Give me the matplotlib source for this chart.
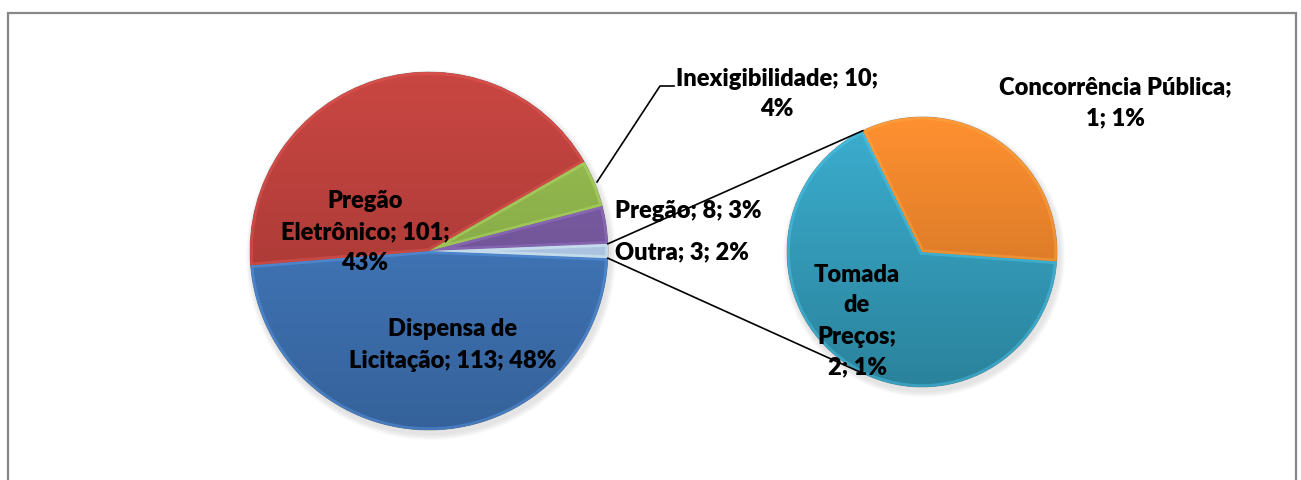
import numpy as np
import matplotlib.pyplot as plt
from matplotlib.patches import Wedge, Rectangle, Circle
from matplotlib.colors import to_rgb

# pizza principal
categorias = ['Dispensa de Licitação', 'Pregão Eletrônico', 'Inexigibilidade', 'Pregão', 'Outra']
valores = [113, 101, 10, 8, 3]
rotulos = ['Dispensa de\nLicitação; 113; 48%', 'Pregão\nEletrônico; 101;\n43%',
           'Inexigibilidade; 10;\n4%', 'Pregão; 8; 3%', 'Outra; 3; 2%']
cores = ['#427ac0', '#bd3f3b', '#92b84c', '#7a5aa4', '#b8d2f0']

# pizza secundaria (detalhe de "Outra")
categorias2 = ['Tomada de Preços', 'Concorrência Pública']
valores2 = [2, 1]
rotulos2 = ['Tomada\nde\nPreços;\n2; 1%', 'Concorrência Pública;\n1; 1%']
cores2 = ['#35a3c3', '#f2862a']

plt.rcParams['font.family'] = ['Lato', 'DejaVu Sans']

W, H = 1301, 480
fig = plt.figure(figsize=(W / 100, H / 100), dpi=100)
ax = fig.add_axes([0, 0, 1, 1])

# centros e raios em pixels (y para cima)
c1, r1 = (429, H - 251), 179
c2, r2 = (922, H - 252), 135


def sombrear(ax, cunha, cor, centro, r):
    # gradiente vertical recortado pela fatia + brilho na borda (efeito bisel)
    base = np.array(to_rgb(cor))
    claro = np.clip(base * 1.04 + 0.02, 0, 1)
    escuro = base * 0.8
    t = np.linspace(0, 1, 256)[:, None]
    img = (claro * (1 - t) + escuro * t)[:, None, :]
    im = ax.imshow(img, extent=(centro[0] - r, centro[0] + r, centro[1] - r, centro[1] + r),
                   origin='upper', aspect='auto', zorder=2)
    im.set_clip_path(cunha)
    borda = Wedge(cunha.center, cunha.r, cunha.theta1, cunha.theta2, facecolor='none',
                  edgecolor=np.clip(base * 1.15 + 0.08, 0, 1), linewidth=4, alpha=0.4, zorder=3)
    ax.add_patch(borda)
    borda.set_clip_path(cunha)


# sombras suaves
for centro, r in [(c1, r1), (c2, r2)]:
    for k in range(6):
        ax.add_patch(Circle((centro[0] + 2, centro[1] - 4), r + 1 + k, color='#808080',
                            alpha=0.035, lw=0, zorder=0))

meio = 180 * valores[-1] / sum(valores)
fatias, _ = ax.pie(valores, colors=cores, center=c1, radius=r1, startangle=-meio,
                   counterclock=False, wedgeprops=dict(linewidth=0.6, edgecolor='#50505080'))
for f, cor in zip(fatias, cores):
    sombrear(ax, f, cor, c1, r1)

fatias2, _ = ax.pie(valores2, colors=cores2, center=c2, radius=r2, startangle=116,
                    wedgeprops=dict(linewidth=0.6, edgecolor='#50505080'))
for f, cor in zip(fatias2, cores2):
    sombrear(ax, f, cor, c2, r2)

# linhas de ligacao entre as pizzas
for s in (1, -1):
    a1 = np.radians(s * meio)
    a2 = np.radians(s * 116)
    ax.plot([c1[0] + r1 * np.cos(a1), c2[0] + r2 * np.cos(a2)],
            [c1[1] + r1 * np.sin(a1), c2[1] + r2 * np.sin(a2)],
            color='black', lw=1.2, zorder=4)

# linha guia de Inexigibilidade
ax.plot([597, 660, 674], [H - 182, H - 86, H - 86], color='black', lw=1.2, zorder=4)

fs = 17
estilo = dict(fontsize=fs, fontweight='heavy', color='black', linespacing=1.5, zorder=5)
ax.text(453, H - 345, rotulos[0], ha='center', va='center', **estilo)
ax.text(365, H - 232, rotulos[1], ha='center', va='center', **estilo)
ax.text(777, H - 94, rotulos[2], ha='center', va='center', **estilo)
ax.text(615, H - 211, rotulos[3], ha='left', va='center', **estilo)
ax.text(615, H - 252, rotulos[4], ha='left', va='center', **estilo)
ax.text(857, H - 321, rotulos2[0], ha='center', va='center', **estilo)
ax.text(1115, H - 103, rotulos2[1], ha='center', va='center', **estilo)

# moldura do grafico
ax.add_patch(Rectangle((8, -10), 1288, H - 13 + 10, facecolor='none', edgecolor='#878787',
                       linewidth=1.6, zorder=6))

ax.set_xlim(0, W)
ax.set_ylim(0, H)
ax.set_aspect('equal')
ax.axis('off')

fig.savefig('out.png', dpi=100)
